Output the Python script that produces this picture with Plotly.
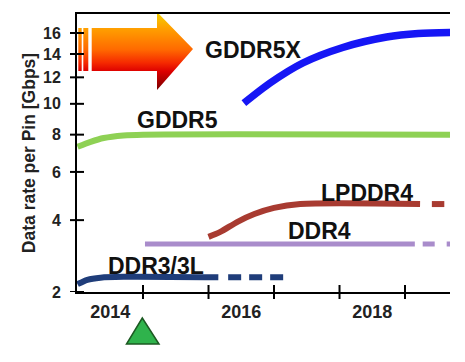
import plotly.graph_objects as go

# ---------------- data (Gbps per pin vs. year) ----------------
gddr5x_x = [2016.54, 2016.94, 2017.44, 2018.05, 2018.72, 2019.2, 2019.69]
gddr5x_v = [10.05, 11.55, 13.2, 14.6, 15.6, 15.95, 16.05]

gddr5_x = [2014.0, 2014.2, 2014.4, 2014.7, 2015.0, 2019.69]
gddr5_v = [7.3, 7.58, 7.8, 7.95, 8.0, 8.0]

lpddr4_x = [2016.0, 2016.18, 2016.45, 2016.7, 2017.0, 2017.4, 2019.23]
lpddr4_v = [3.44, 3.6, 3.95, 4.22, 4.45, 4.6, 4.6]
lpddr4_fx = [2019.41, 2019.6]
lpddr4_fv = [4.6, 4.6]

ddr4_x = [2015.03, 2019.15]
ddr4_v = [3.22, 3.22]
ddr4_fx = [2019.27, 2019.69]
ddr4_fv = [3.22, 3.22]

ddr3_x = [2014.0, 2014.15, 2014.35, 2014.7, 2016.15]
ddr3_v = [2.17, 2.27, 2.32, 2.34, 2.33]
ddr3_fx = [2016.3, 2017.17]
ddr3_fv = [2.33, 2.33]

y_ticks = [2, 4, 6, 8, 10, 12, 14, 16]
x_year_labels = ["2014", "2016", "2018"]
x_year_label_pos = [2014.5, 2016.5, 2018.5]
x_tick_marks = [2015, 2016, 2017, 2018, 2019]

# axis is a power scale (value ** 0.25)
P = 0.25
def tr(vals):
    return [v ** P for v in vals]

FONT = "Liberation Sans, Arial, sans-serif"
WIN_W, WIN_H = 465, 362
OFF = 8                       # default page body margin of the browser
# plot area in window pixels
PL, PR, PT, PB = 77, 450, 14, 292
PW, PH = PR - PL, PB - PT
W, H = WIN_W - OFF, WIN_H - OFF
L, T = PL - OFF, PT - OFF
R, B = W - (PR - OFF), H - (PB - OFF)

fig = go.Figure()

def add_line(x, v, color, width, dash=None, shape="spline"):
    fig.add_trace(go.Scatter(
        x=x, y=tr(v), mode="lines",
        line=dict(color=color, width=width, shape=shape, smoothing=0.8,
                  dash=dash if dash else "solid"),
        hoverinfo="skip", showlegend=False))

add_line(gddr5_x, gddr5_v, "#8ED154", 6)
add_line(gddr5x_x, gddr5x_v, "#1616F5", 7.5)
add_line(ddr4_x, ddr4_v, "#A98CCB", 5, shape="linear")
add_line(ddr4_fx, ddr4_fv, "#A98CCB", 5, dash="12px,12px", shape="linear")
add_line(lpddr4_x, lpddr4_v, "#A83B31", 6)
add_line(lpddr4_fx, lpddr4_fv, "#A83B31", 6, dash="13px,12px", shape="linear")
add_line(ddr3_x, ddr3_v, "#1F3D7A", 6)
add_line(ddr3_fx, ddr3_fv, "#1F3D7A", 6, dash="13px,8px", shape="linear")

# ---------- decorative gradient arrow (pixel overlay axes) ----------
grad = dict(type="vertical", start=12, stop=90,
            colorscale=[[0.0, "#F2D400"], [0.2, "#FFA200"], [0.48, "#FF6A00"],
                        [0.65, "#F52A00"], [0.76, "#DD0000"], [1.0, "#780000"]])
arrow_px = [91.7, 157, 157, 193, 157, 157, 91.7, 91.7]
arrow_py = [28, 28, 12, 49, 90, 71, 71, 28]
fig.add_trace(go.Scatter(x=arrow_px, y=arrow_py, xaxis="x3", yaxis="y3",
                         mode="lines", fill="toself", fillgradient=grad,
                         line=dict(width=0, color="rgba(0,0,0,0)"),
                         hoverinfo="skip", showlegend=False))
for x0, x1 in [(78.3, 81.7), (83.3, 88.3)]:
    fig.add_trace(go.Scatter(x=[x0, x1, x1, x0, x0], y=[28, 28, 71, 71, 28],
                             xaxis="x3", yaxis="y3", mode="lines", fill="toself",
                             fillgradient=grad,
                             line=dict(width=0, color="rgba(0,0,0,0)"),
                             hoverinfo="skip", showlegend=False))

# ---------- crossing tick marks ----------
shapes = []
tx = 7 / PH
for yr in x_tick_marks:
    shapes.append(dict(type="line", xref="x", yref="paper", x0=yr, x1=yr,
                       y0=-tx, y1=tx, line=dict(color="black", width=2)))
ty = 7 / PW
for v in y_ticks:
    shapes.append(dict(type="line", xref="paper", yref="y", x0=-ty, x1=ty,
                       y0=v ** P, y1=v ** P, line=dict(color="black", width=2)))

# green triangle marker under the axis (paper coords from window pixels)
def px2paper(px, py):
    return (px - PL) / PW, (PB - py) / PH
pts = [px2paper(142.3, 318), px2paper(159, 344), px2paper(126.5, 344)]
path = "M {} {} L {} {} L {} {} Z".format(*[c for p in pts for c in p])
shapes.append(dict(type="path", xref="paper", yref="paper", path=path,
                   fillcolor="#2FB34C", line=dict(color="#1C5A22", width=1.5)))

# ---------- series labels ----------
labels = [("GDDR5X", 2016.69, 14.36), ("GDDR5", 2015.53, 8.91),
          ("DDR3/3L", 2015.2, 2.605), ("LPDDR4", 2018.42, 5.05),
          ("DDR4", 2017.69, 3.63)]
annotations = [dict(text=t, x=x, y=v ** P, xref="x", yref="y", showarrow=False,
                    font=dict(family=FONT, size=23, color="#111111", weight="bold"))
               for t, x, v in labels]

fig.update_layout(
    width=W, height=H,
    margin=dict(l=L, r=R, t=T, b=B, pad=0, autoexpand=False),
    paper_bgcolor="white", plot_bgcolor="white",
    font=dict(family=FONT, color="#222222", weight="bold"),
    showlegend=False,
    xaxis=dict(range=[2013.992, 2019.687], tickvals=x_year_label_pos,
               ticktext=x_year_labels, ticks="", showline=True,
               linecolor="black", linewidth=2, mirror=True, showgrid=False,
               zeroline=False, ticklabelstandoff=2, automargin=False,
               tickfont=dict(size=18, family=FONT, weight="bold", color="#222222")),
    yaxis=dict(range=[2 ** P, 2.0595], tickvals=tr(y_ticks),
               ticktext=[str(v) for v in y_ticks], ticks="", showline=True,
               linecolor="black", linewidth=2, showgrid=False, zeroline=False,
               ticklabelstandoff=11, automargin=False,
               tickfont=dict(size=16, family=FONT, weight="bold", color="#222222"),
               title=dict(text="Data rate per Pin [Gbps]", standoff=3,
                          font=dict(size=17.5, family=FONT, weight="bold",
                                    color="#222222"))),
    xaxis3=dict(overlaying="x", range=[PL, PR], visible=False, anchor="y3"),
    yaxis3=dict(overlaying="y", range=[PB, PT], visible=False, anchor="x3"),
    shapes=shapes,
    annotations=annotations,
)

fig.write_html("out.html")
